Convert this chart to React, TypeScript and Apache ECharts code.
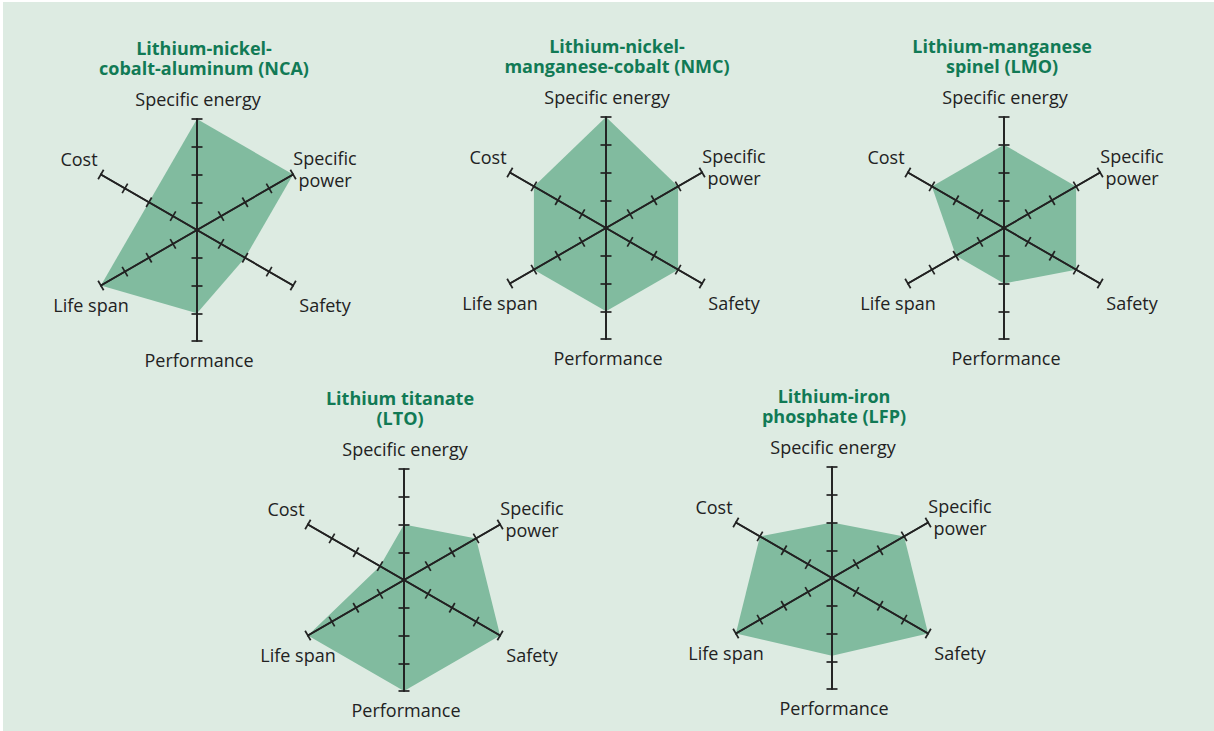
import React, { useEffect, useRef } from "react";
import * as echarts from "echarts";

// Indicator order as printed, clockwise from the top
const categories = ["Specific energy", "Specific power", "Safety", "Performance", "Life span", "Cost"];
const axisLabels = ["Specific energy", "Specific\npower", "Safety", "Performance", "Life span", "Cost"];
const scaleMax = 4;
const tickValues = [1, 2, 3, 4];

const titles = [
  "Lithium-nickel-\ncobalt-aluminum (NCA)",
  "Lithium-nickel-\nmanganese-cobalt (NMC)",
  "Lithium-manganese\nspinel (LMO)",
  "Lithium titanate\n(LTO)",
  "Lithium-iron\nphosphate (LFP)",
];

const nca = [4, 4, 2, 3, 4, 2];
const nmc = [4, 3, 3, 3, 3, 3];
const lmo = [3, 3, 3, 2, 2, 3];
const lto = [2, 3, 4, 4, 4, 1];
const lfp = [2, 3, 4, 2.8, 4, 3];
const seriesValues = [nca, nmc, lmo, lto, lfp];

// layout (pixels)
const layouts = [
  { cx: 197, cy: 230, tx: 204 },
  { cx: 606, cy: 228, tx: 617 },
  { cx: 1004, cy: 228, tx: 1002 },
  { cx: 404, cy: 580, tx: 400 },
  { cx: 832, cy: 578, tx: 834 },
];
const RADIUS = 111;
// label offsets relative to chart centre, in printed order
const labelOffsets = [
  [1, -131],
  [128, -61],
  [128, 75],
  [2, 130],
  [-106, 75],
  [-118, -71],
];

const BG = "#ddebe2";
const FILL = "#81bb9f";
const INK = "#222222";
const TITLE = "#117a55";
const FONT = "'Open Sans', 'Noto Sans', sans-serif";

// ECharts places radar indicators counter-clockwise: reorder printed (clockwise) order
const ccwOrder = [0, 5, 4, 3, 2, 1];

export default function App() {
  const ref = useRef<HTMLDivElement>(null);
  useEffect(() => {
    if (!ref.current) return;
    const chart = echarts.init(ref.current, undefined, { renderer: "svg" });
    const indicator = ccwOrder.map((i) => ({ name: categories[i], min: 0, max: scaleMax }));
    const radars: any[] = [];
    const series: any[] = [];
    const graphics: any[] = [
      { type: "rect", shape: { x: 3, y: 2, width: 1211, height: 729 }, style: { fill: BG }, z: -10, silent: true },
    ];
    layouts.forEach((l, k) => {
      // two radars on the same lines: ticks drawn to one side, then to the other
      [5.5, -5.5].forEach((len) => {
        radars.push({
          center: [l.cx, l.cy],
          radius: RADIUS,
          startAngle: 90,
          splitNumber: 4,
          indicator,
          z: 5,
          axisName: { show: false },
          splitLine: { show: false },
          splitArea: { show: false },
          axisLine: { show: true, lineStyle: { color: INK, width: 1.7 } },
          axisTick: { show: true, length: len, customValues: tickValues, lineStyle: { color: INK, width: 1.7 } },
          axisLabel: { show: false },
        });
      });
      series.push({
        type: "radar",
        radarIndex: k * 2,
        z: 1,
        symbol: "none",
        silent: true,
        lineStyle: { width: 0, opacity: 0 },
        areaStyle: { color: FILL, opacity: 1 },
        data: [{ value: ccwOrder.map((i) => seriesValues[k][i]), name: titles[k] }],
      });
      graphics.push({
        type: "text",
        x: l.tx,
        y: l.cy - 172,
        z: 10,
        style: {
          text: titles[k],
          fill: TITLE,
          font: `bold 18px ${FONT}`,
          lineHeight: 20,
          align: "center",
          verticalAlign: "middle",
        },
      });
      axisLabels.forEach((t, i) => {
        graphics.push({
          type: "text",
          x: l.cx + labelOffsets[i][0],
          y: l.cy + labelOffsets[i][1],
          z: 10,
          style: {
            text: t,
            fill: INK,
            font: `18px ${FONT}`,
            lineHeight: 22,
            align: "center",
            verticalAlign: "middle",
          },
        });
      });
    });
    chart.setOption({
      animation: false,
      backgroundColor: "#ffffff",
      radar: radars,
      series,
      graphic: graphics,
    });
    return () => chart.dispose();
  }, []);
  return <div ref={ref} style={{ position: "absolute", left: 0, top: 0, width: 1214, height: 731 }} />;
}
